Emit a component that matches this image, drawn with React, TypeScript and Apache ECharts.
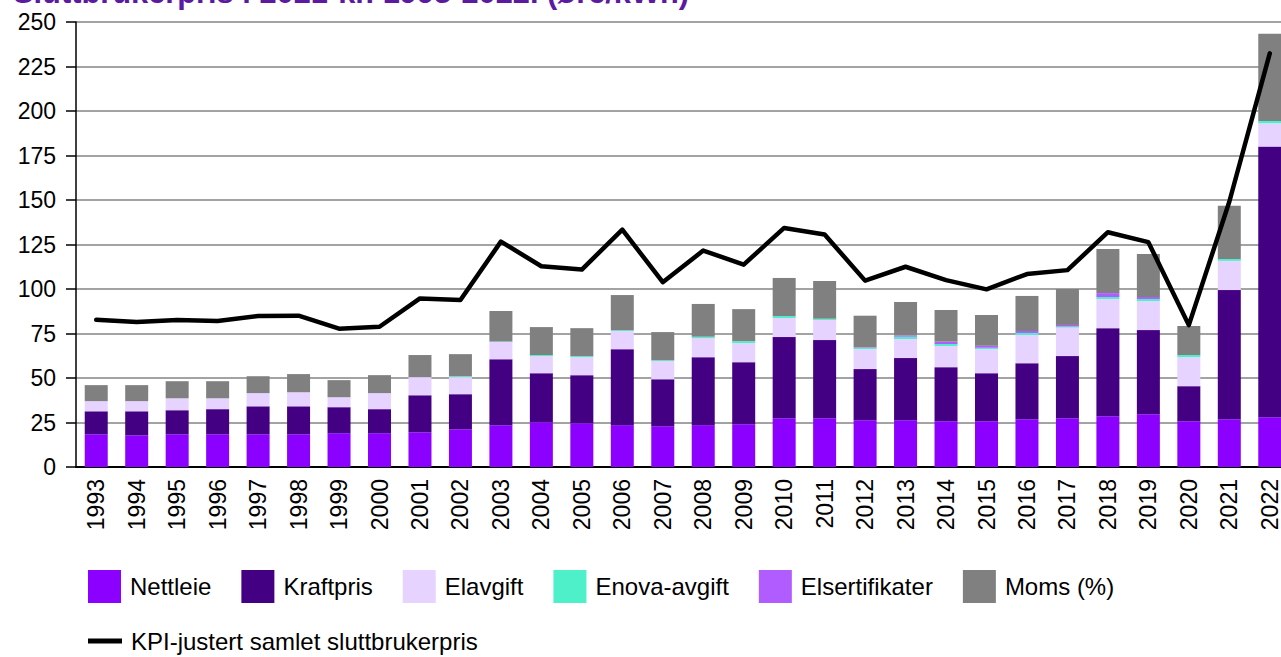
import React, { useEffect, useRef } from "react";
import * as echarts from "echarts";

const years = [
  "1993", "1994", "1995", "1996", "1997", "1998", "1999", "2000", "2001", "2002",
  "2003", "2004", "2005", "2006", "2007", "2008", "2009", "2010", "2011", "2012",
  "2013", "2014", "2015", "2016", "2017", "2018", "2019", "2020", "2021", "2022",
];

const nettleie = [
  18.4, 17.8, 18.4, 18.4, 18.4, 18.4, 19.0, 19.0, 19.5, 21.2,
  23.5, 25.1, 24.6, 23.5, 22.9, 23.5, 24.0, 27.4, 27.4, 26.3,
  26.3, 25.7, 25.7, 26.8, 27.4, 28.5, 29.6, 25.7, 26.8, 28.0,
];
const kraftpris = [
  12.9, 13.5, 13.5, 14.1, 15.7, 15.7, 14.6, 13.5, 20.8, 19.7,
  37.1, 27.6, 27.0, 42.7, 26.4, 38.2, 34.9, 45.6, 43.9, 28.7,
  34.9, 30.4, 27.0, 31.5, 34.9, 49.5, 47.3, 19.7, 72.6, 152.0,
];
const elavgift = [
  5.7, 5.7, 6.7, 6.1, 7.4, 7.9, 5.6, 9.0, 10.2, 9.6,
  9.6, 9.6, 10.1, 10.2, 10.2, 10.7, 10.7, 10.7, 11.3, 11.3,
  10.7, 11.9, 13.6, 15.9, 16.0, 16.4, 16.3, 16.3, 16.4, 13.1,
];
const enova = [
  0, 0, 0, 0, 0, 0, 0, 0, 0, 0.5,
  0.3, 0.6, 0.6, 0.5, 0.5, 0.8, 1.1, 1.1, 0.7, 0.7,
  1.3, 1.1, 0.7, 1.1, 0.6, 1.1, 1.2, 1.2, 1.1, 1.3,
];
const elsertifikater = [
  0, 0, 0, 0, 0, 0, 0, 0, 0, 0,
  0, 0, 0, 0, 0, 0, 0, 0, 0, 0.2,
  0.7, 1.3, 1.1, 1.1, 0.9, 2.2, 1.1, 0, 0, 0,
];
const moms = [
  9.0, 9.0, 9.6, 9.6, 9.5, 10.2, 9.6, 10.1, 12.4, 12.4,
  17.1, 15.7, 15.7, 19.7, 15.8, 18.4, 18.0, 21.4, 21.2, 17.8,
  18.8, 17.8, 17.3, 19.7, 20.2, 24.8, 24.2, 16.3, 29.8, 49.0,
];
const kpiTotal = [
  82.7, 81.4, 82.6, 82.0, 84.8, 85.0, 77.7, 78.8, 94.7, 93.8,
  126.6, 112.8, 110.9, 133.4, 103.8, 121.6, 113.7, 134.3, 130.6, 104.7,
  112.5, 105.0, 99.8, 108.4, 110.6, 131.9, 126.3, 79.7, 149.0, 232.4,
];

const yTicks = [0, 25, 50, 75, 100, 125, 150, 175, 200, 225, 250];

const FONT = "Arial, 'Liberation Sans', Helvetica, sans-serif";
const TITLE = "Sluttbrukerpris i 2021-kr. 1993-2022. (øre/kWh)";

export default function App() {
  const ref = useRef<HTMLDivElement>(null);

  useEffect(() => {
    if (!ref.current) return;
    const chart = echarts.init(ref.current, undefined, { renderer: "svg" });

    const barSeries = (name: string, data: number[], color: string) => ({
      name,
      type: "bar",
      stack: "total",
      data,
      barWidth: 23,
      itemStyle: { color },
      emphasis: { disabled: true },
    });

    chart.setOption({
      animation: false,
      textStyle: { fontFamily: FONT },
      graphic: [
        {
          type: "text",
          x: 13,
          y: 8,
          silent: true,
          style: {
            text: TITLE,
            fontFamily: FONT,
            fontSize: 30.8,
            fontWeight: "bold",
            fill: "#5b1aa0",
            verticalAlign: "bottom",
          },
        },
      ],
      grid: { left: 76, top: 22, bottom: 190, right: 0, containLabel: false },
      legend: [
        {
          data: ["Nettleie", "Kraftpris", "Elavgift", "Enova-avgift", "Elsertifikater", "Moms (%)"],
          left: 88,
          top: 570,
          padding: 0,
          itemWidth: 33,
          itemHeight: 33,
          itemGap: 30,
          icon: "rect",
          textStyle: { fontFamily: FONT, fontSize: 24, color: "#000", padding: [0, 0, 0, 4] },
        },
        {
          data: ["KPI-justert samlet sluttbrukerpris"],
          left: 88,
          top: 629,
          padding: 0,
          itemWidth: 34,
          itemHeight: 5,
          icon: "rect",
          textStyle: { fontFamily: FONT, fontSize: 24, color: "#000", padding: [0, 0, 0, 4] },
        },
      ],
      xAxis: {
        type: "category",
        data: years,
        axisLine: { show: true, lineStyle: { color: "#000", width: 2 } },
        axisTick: { show: false },
        axisLabel: {
          rotate: 90,
          margin: 12,
          fontSize: 23,
          color: "#000",
          fontFamily: FONT,
        },
      },
      yAxis: {
        type: "value",
        min: yTicks[0],
        max: yTicks[yTicks.length - 1],
        interval: 25,
        axisLine: { show: true, lineStyle: { color: "#000", width: 1.5 } },
        axisTick: { show: true, length: 10, lineStyle: { color: "#000", width: 1.5 } },
        axisLabel: { fontSize: 23, color: "#000", margin: 20, fontFamily: FONT },
        splitLine: { show: true, lineStyle: { color: "#a3a3a3", width: 2 } },
      },
      series: [
        barSeries("Nettleie", nettleie, "#8c00ff"),
        barSeries("Kraftpris", kraftpris, "#440082"),
        barSeries("Elavgift", elavgift, "#e6d3ff"),
        barSeries("Enova-avgift", enova, "#4df0c8"),
        barSeries("Elsertifikater", elsertifikater, "#b05cff"),
        barSeries("Moms (%)", moms, "#808080"),
        {
          name: "KPI-justert samlet sluttbrukerpris",
          type: "line",
          data: kpiTotal,
          symbol: "none",
          z: 10,
          itemStyle: { color: "#000" },
          lineStyle: { color: "#000", width: 4.5, cap: "round", join: "round" },
          emphasis: { disabled: true },
        },
      ],
    });

    return () => chart.dispose();
  }, []);

  return (
    <div style={{ position: "absolute", left: 0, top: 0, width: 1281, height: 657, overflow: "hidden" }}>
      <div ref={ref} style={{ width: 1290, height: 657 }} />
    </div>
  );
}
